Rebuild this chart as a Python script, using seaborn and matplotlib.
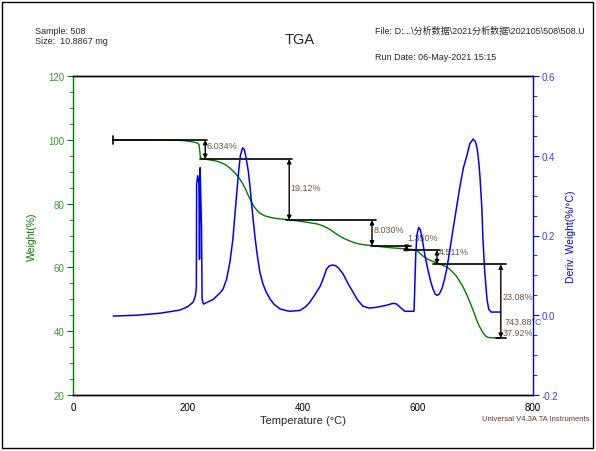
import numpy as np
import pandas as pd
import matplotlib
matplotlib.use("Agg")
import matplotlib.pyplot as plt
import seaborn as sns
from matplotlib.patches import Rectangle
from matplotlib.ticker import MultipleLocator

# =========================
# 数据
# =========================
weight_temp = [70, 150, 188, 200, 210, 216, 219, 220.5, 221.5, 224, 238, 250, 258, 265,
               272, 278, 284, 290, 295, 300, 305, 310, 315, 320, 325, 333, 343, 355,
               372, 390, 412, 425, 435, 443, 450, 457, 464, 472, 480, 487, 494, 502,
               510, 520, 535, 550, 565, 580, 590, 597, 600, 603, 606, 609, 615, 620,
               627, 633, 640, 645, 651, 656, 661, 667, 673, 678, 682, 686, 690, 694,
               697, 700, 703, 706, 710, 713, 717, 721, 725, 735, 743.9]
weight_pct = [100.0, 99.95, 99.8, 99.6, 99.3, 99.0, 98.6, 96.5, 94.5, 94.1, 93.7, 93.3,
              92.8, 92.2, 91.3, 90.3, 89.1, 87.7, 86.3, 84.6, 82.5, 80.6, 79.0, 77.9,
              77.0, 76.2, 75.7, 75.3, 75.0, 74.6, 74.0, 73.6, 73.0, 72.3, 71.5, 70.6,
              69.8, 69.0, 68.4, 67.9, 67.5, 67.2, 67.0, 66.85, 66.5, 66.2, 66.0, 65.8,
              65.6, 65.4, 65.0, 64.5, 64.0, 63.5, 62.8, 62.3, 61.8, 61.3, 60.9, 60.5,
              60.0, 59.3, 58.4, 57.2, 55.5, 54.0, 52.5, 50.9, 49.2, 47.4, 46.0, 44.5,
              43.0, 41.8, 40.5, 39.5, 38.6, 38.1, 37.95, 37.92, 37.92]

deriv_temp = [70, 110, 151, 186, 200, 209, 213, 214.5, 215, 217, 219, 220, 221, 222,
              223.5, 224.5, 227, 244, 255, 261, 267, 273, 278, 282, 285, 288, 291, 295,
              298, 301, 305, 308, 311, 314, 317, 321, 325, 330, 336, 343, 350, 360,
              370, 377, 395, 405, 412, 420, 430, 436, 441, 446, 452, 457, 462, 470,
              478, 487, 495, 504, 515, 528, 545, 557, 563, 569, 577, 593, 594, 596,
              598, 601, 604, 607, 612, 617, 622, 626, 630, 633, 637, 642, 646, 650,
              655, 661, 667, 673, 679, 685, 690, 696, 700, 703, 706, 708, 711, 713,
              716, 720, 723, 727, 743.9]
deriv_val = [-0.002, 0.0, 0.005, 0.013, 0.022, 0.033, 0.05, 0.07, 0.33, 0.35, 0.33, 0.14,
             0.37, 0.31, 0.22, 0.04, 0.028, 0.04, 0.055, 0.066, 0.09, 0.134, 0.19, 0.259,
             0.31, 0.36, 0.40, 0.42, 0.415, 0.395, 0.36, 0.32, 0.274, 0.23, 0.19, 0.145,
             0.108, 0.08, 0.058, 0.04, 0.027, 0.016, 0.012, 0.01, 0.012, 0.022, 0.033,
             0.05, 0.073, 0.095, 0.116, 0.124, 0.126, 0.124, 0.118, 0.103, 0.08, 0.058,
             0.038, 0.023, 0.018, 0.02, 0.025, 0.03, 0.028, 0.02, 0.01, 0.01, 0.05, 0.15,
             0.2, 0.22, 0.215, 0.195, 0.15, 0.116, 0.085, 0.066, 0.053, 0.05, 0.053,
             0.068, 0.09, 0.116, 0.16, 0.216, 0.27, 0.324, 0.37, 0.40, 0.43, 0.442,
             0.435, 0.417, 0.38, 0.342, 0.27, 0.19, 0.11, 0.04, 0.015, 0.008, 0.008]

# 台阶分析：水平线
step_levels = [100.0, 93.966, 74.846, 66.816, 65.466, 60.955, 37.875]
step_from = [70, 221, 370, 518, 576, 626, 736]
step_to = [233, 381, 527, 588, 638, 753, 753]
# 台阶分析：竖直箭头
arrow_temp = [230, 376, 520, 580, 633, 744]
arrow_labels = ["6.034%", "19.12%", "8.030%", "1.350%", "4.511%", "23.08%"]
label_temp = [232, 378, 523, 582, 636, 747]
label_weight = [98.3, 85.0, 71.8, 69.3, 65.0, 51.0]

wdf = pd.DataFrame({"Temperature": weight_temp, "Weight": weight_pct})
ddf = pd.DataFrame({"Temperature": deriv_temp, "Deriv": deriv_val})

# =========================
# 样式
# =========================
sns.set_style("white")
plt.rcParams["font.family"] = ["Liberation Sans", "Noto Sans CJK SC", "DejaVu Sans"]
plt.rcParams["axes.unicode_minus"] = False

GREEN = "#007a00"
BLUE = "#0000ff"
TXT = "#6b5a45"

fig = plt.figure(figsize=(5.96, 4.52), dpi=100)
ax = fig.add_axes([73 / 596, 1 - 396 / 452, 460 / 596, 319 / 452])
ax2 = ax.twinx()

# =========================
# 曲线
# =========================
sns.lineplot(data=wdf, x="Temperature", y="Weight", ax=ax, color=GREEN,
             linewidth=1.0, estimator=None, sort=False)
sns.lineplot(data=ddf, x="Temperature", y="Deriv", ax=ax2, color=BLUE,
             linewidth=1.1, estimator=None, sort=False)

# 台阶线
for lvl, x0, x1 in zip(step_levels, step_from, step_to):
    ax.plot([x0, x1], [lvl, lvl], color="black", lw=1.2, zorder=5)
ax.plot([70, 70], [98.8, 101.2], color="black", lw=1.2, zorder=5)

for i, t in enumerate(arrow_temp):
    ax.annotate("", xy=(t, step_levels[i + 1]), xytext=(t, step_levels[i]),
                arrowprops=dict(arrowstyle="<|-|>", color="black", lw=1.0,
                                mutation_scale=6, shrinkA=0, shrinkB=0), zorder=6)
    ax.text(label_temp[i], label_weight[i], arrow_labels[i], fontsize=6.5,
            color=TXT, va="center", ha="left", zorder=7)

ax.text(750, 42.9, "743.88°C", fontsize=6.5, color=TXT, va="center", ha="left")
ax.text(747, 39.7, "37.92%", fontsize=6.5, color=TXT, va="center", ha="left")

# =========================
# 坐标轴
# =========================
ax.set_xlim(0, 800)
ax.set_ylim(20, 120)
ax2.set_ylim(-0.2, 0.6)

ax.xaxis.set_major_locator(MultipleLocator(200))
ax.xaxis.set_minor_locator(MultipleLocator(50))
ax.yaxis.set_major_locator(MultipleLocator(20))
ax.yaxis.set_minor_locator(MultipleLocator(5))
ax2.yaxis.set_major_locator(MultipleLocator(0.2))
ax2.yaxis.set_minor_locator(MultipleLocator(0.05))
ax2.set_yticklabels([f"{v:.1f}" for v in ax2.get_yticks()])

ax.tick_params(axis="x", which="major", direction="out", length=4, labelsize=7,
               colors="black", pad=1)
ax.tick_params(axis="x", which="minor", direction="in", length=3, colors="black")
ax.tick_params(axis="y", which="major", direction="out", length=4, labelsize=7,
               colors=GREEN, labelcolor="#3c9a2c", pad=2)
ax.tick_params(axis="y", which="minor", direction="out", length=3, colors=GREEN)
ax2.tick_params(axis="y", which="major", direction="out", length=4, labelsize=7,
                colors=BLUE, labelcolor="#3a3aff", pad=2)
ax2.tick_params(axis="y", which="minor", direction="out", length=3, colors=BLUE)

for a in (ax, ax2):
    for s in a.spines.values():
        s.set_linewidth(1.0)
        s.set_color("black")
ax.spines["left"].set_color(GREEN)
ax2.spines["left"].set_visible(False)
ax.spines["right"].set_visible(False)
ax2.spines["right"].set_color(BLUE)

ax.set_xlabel("Temperature (°C)", fontsize=8, labelpad=2)
ax.set_ylabel("Weight(%)", fontsize=7.5, color=GREEN, labelpad=8)
ax2.set_ylabel("Deriv. Weight(%/°C)", fontsize=7.5, color=BLUE, labelpad=6)

# =========================
# 表头
# =========================
fig.text(35 / 596, 1 - 31 / 452, "Sample: 508", fontsize=6.5, va="center")
fig.text(35 / 596, 1 - 42 / 452, "Size:  10.8867 mg", fontsize=6.5, va="center")
fig.text(300 / 596, 1 - 40 / 452, "TGA", fontsize=10.5, ha="center", va="center")
fig.text(375 / 596, 1 - 31 / 452,
         "File: D:...\\分析数据\\2021分析数据\\202105\\508\\508.U",
         fontsize=6.5, va="center")
fig.text(375 / 596, 1 - 57 / 452, "Run Date: 06-May-2021 15:15", fontsize=6.5,
         va="center")
fig.text(590 / 596, 1 - 420 / 452, "Universal V4.3A TA Instruments", fontsize=5.5,
         color="#7a3030", ha="right", va="center")

fig.patches.append(Rectangle((2 / 596, 3 / 452), 591 / 596, 446 / 452,
                             transform=fig.transFigure, fill=False, lw=1.0,
                             ec="black"))

fig.savefig("out.png", dpi=100)
